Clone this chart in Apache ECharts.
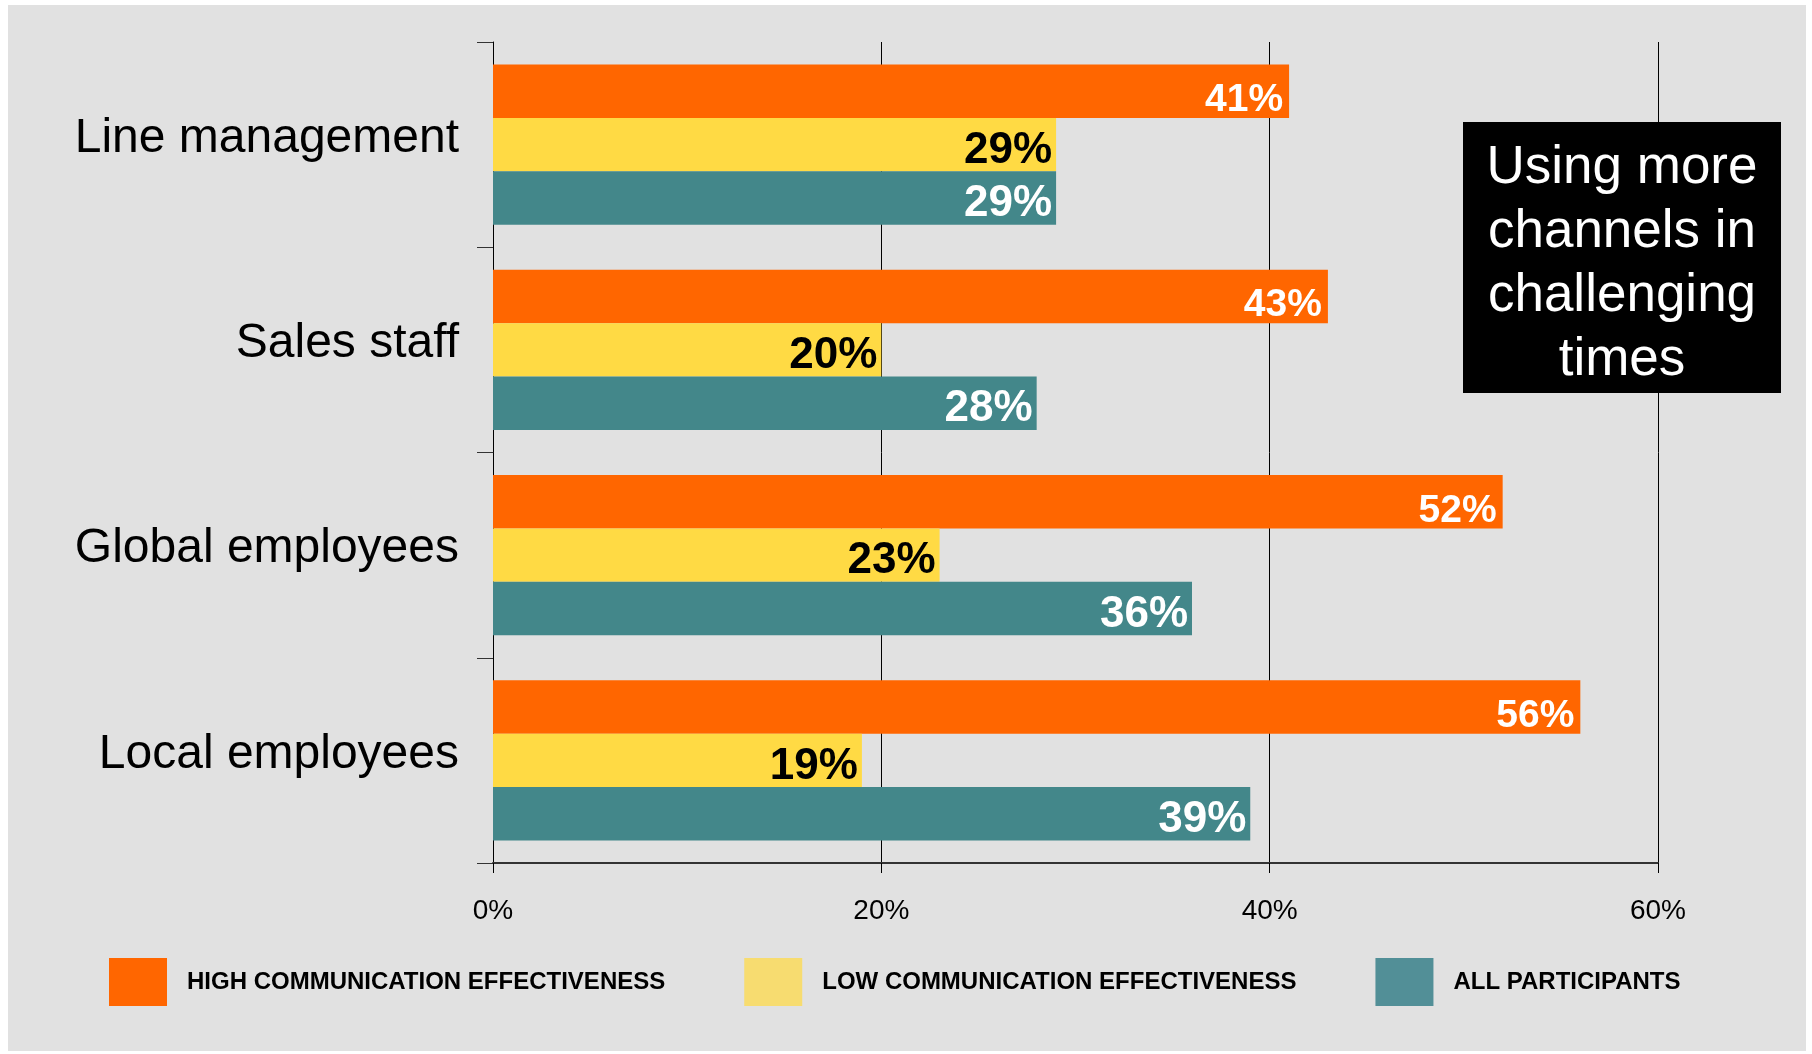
<!DOCTYPE html>
<html>
<head>
<meta charset="utf-8">
<script src="https://cdn.jsdelivr.net/npm/echarts@6/dist/echarts.min.js"></script>
<style>
  html, body { margin: 0; padding: 0; background: #ffffff; }
  #chart { position: absolute; left: 8px; top: 5px; width: 1798px; height: 1046px; }
</style>
</head>
<body>
<div id="chart"></div>
<script>
var chartDom = document.getElementById('chart');
var myChart = echarts.init(chartDom);

// categories top to bottom
var categories = ['Line management', 'Sales staff', 'Global employees', 'Local employees'];
var highEff = [41, 43, 52, 56];
var lowEff = [29, 20, 23, 19];
var allPart = [29, 28, 36, 39];
var seriesNames = ['HIGH COMMUNICATION EFFECTIVENESS', 'LOW COMMUNICATION EFFECTIVENESS', 'ALL PARTICIPANTS'];
var xTicks = [0, 20, 40, 60];

var FONT = 'Liberation Sans';
var barColors = ['#ff6600', '#ffda44', '#43878a'];
var legendColors = ['#ff6600', '#f7dc70', '#528f97'];
var labelColors = ['#ffffff', '#000000', '#ffffff'];
var labelSizes = [39, 44, 44];

function barSeries(i, data) {
  return {
    name: seriesNames[i],
    type: 'bar',
    data: data,
    barGap: '0%',
    barCategoryGap: '22%',
    itemStyle: { color: barColors[i] },
    label: {
      show: true,
      position: 'insideRight',
      distance: i === 0 ? 6 : 4,
      formatter: '{c}%',
      color: labelColors[i],
      fontFamily: FONT,
      fontWeight: 'bold',
      fontSize: labelSizes[i],
      offset: [0, i === 0 ? 9 : 6]
    }
  };
}

var option = {
  backgroundColor: '#e1e1e1',
  animation: false,
  grid: { left: 485, top: 37, width: 1165, height: 821 },
  xAxis: {
    type: 'value',
    min: xTicks[0],
    max: xTicks[xTicks.length - 1],
    interval: 20,
    axisLine: { show: true, lineStyle: { color: '#333', width: 2 } },
    axisTick: { show: true, length: 10, lineStyle: { color: '#000', width: 1 } },
    axisLabel: {
      formatter: '{value}%',
      color: '#000',
      fontFamily: FONT,
      fontSize: 28,
      margin: 34
    },
    splitLine: { show: true, lineStyle: { color: '#000', width: 1 } }
  },
  yAxis: {
    type: 'category',
    data: categories,
    inverse: true,
    axisLine: { show: true, lineStyle: { color: '#000', width: 1 } },
    axisTick: { show: true, length: 16, lineStyle: { color: '#333', width: 1 } },
    axisLabel: {
      color: '#000',
      fontFamily: FONT,
      fontSize: 48,
      margin: 34,
      verticalAlign: 'bottom',
      lineHeight: 12
    }
  },
  legend: {
    left: 96,
    top: 948,
    icon: 'rect',
    itemWidth: 58,
    itemHeight: 48,
    itemGap: 79,
    textStyle: {
      color: '#000',
      fontFamily: FONT,
      fontWeight: 'bold',
      fontSize: 24,
      padding: [0, 0, 0, 15]
    },
    data: seriesNames.map(function (n, i) {
      return { name: n, itemStyle: { color: legendColors[i] } };
    })
  },
  graphic: [
    {
      type: 'rect',
      x: 1455,
      y: 117,
      shape: { width: 318, height: 271 },
      style: { fill: '#000' },
      z: 10
    },
    {
      type: 'text',
      x: 1614,
      y: 259,
      z: 11,
      style: {
        text: 'Using more\nchannels in\nchallenging\ntimes',
        fill: '#fff',
        fontFamily: FONT,
        fontSize: 53,
        lineHeight: 64,
        align: 'center',
        verticalAlign: 'middle'
      }
    }
  ],
  series: [
    barSeries(0, highEff),
    barSeries(1, lowEff),
    barSeries(2, allPart)
  ]
};

option && myChart.setOption(option);
</script>
</body>
</html>
